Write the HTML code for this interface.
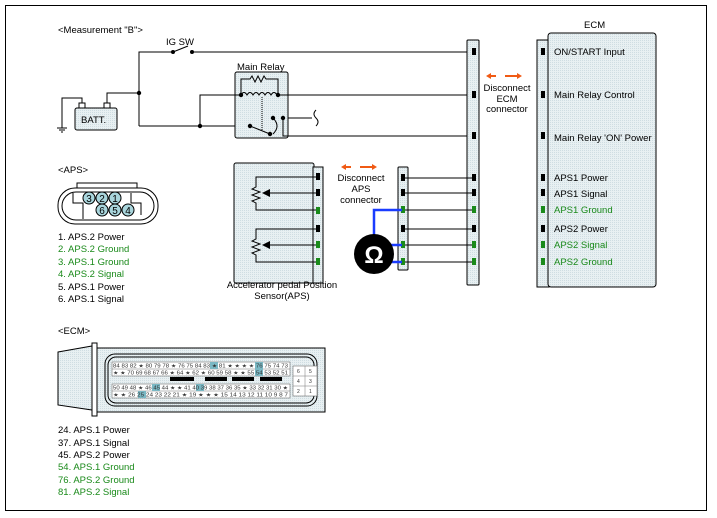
<!DOCTYPE html>
<html><head><meta charset="utf-8"><style>
body{margin:0;background:#fff;}
svg{display:block;font-family:"Liberation Sans",sans-serif;}
</style></head><body>
<svg width="717" height="518" viewBox="0 0 717 518" xmlns="http://www.w3.org/2000/svg">
<defs>
<pattern id="dot" width="2" height="2" patternUnits="userSpaceOnUse"><rect width="2" height="2" fill="#e8f0f2"/><rect width="1" height="1" fill="#cfdde2"/></pattern>
</defs>
<rect x="5.5" y="5.5" width="701" height="505" fill="#fff" stroke="#000"/>
<g font-size="9.5" fill="#000">
<text x="58" y="33">&lt;Measurement "B"&gt;</text>
<text x="166" y="45">IG SW</text>
<text x="237" y="70">Main Relay</text>
</g>
<g stroke="#000" fill="none" stroke-width="1">
<polyline points="139,126 139,52 172,52"/>
<path d="M173,52 L188,46"/>
<line x1="192" y1="52" x2="470" y2="52"/>
<polyline points="62,128 62,98 82,98 82,103"/>
<polyline points="107,103 107,93 139,93"/>
<line x1="57" y1="128" x2="67" y2="128"/><line x1="59" y1="130" x2="65" y2="130"/><line x1="61" y1="132" x2="63" y2="132"/>
<polyline points="139,126 250,126 270,136"/>
<polyline points="200,126 200,95 470,95"/>
<polyline points="285,136 470,136"/>
<polyline points="283,110 283,136"/>
<line x1="273" y1="118" x2="312" y2="118"/>
<path d="M316,110 q-4,4 0,8 q4,4 0,8"/>
</g>
<rect x="235" y="72" width="53" height="66" rx="2" fill="url(#dot)" stroke="#000"/>
<g stroke="#000" fill="none">
<polyline points="241,95 241,79 250,79 252,76 255,82 258,76 261,82 264,76 266,79 278,79 278,95"/>
<path d="M241,95 q3,-5 6,0 q3,-5 6,0 q3,-5 6,0 q3,-5 6,0 q3,-5 6,0 q3,-5 6,0"/>
<line x1="262" y1="97" x2="262" y2="130" stroke-dasharray="1,1"/>
<line x1="250" y1="126" x2="270" y2="134"/>
<path d="M273,118 q8,8 0,16"/>
<line x1="200" y1="95" x2="241" y2="95"/><line x1="278" y1="95" x2="288" y2="95"/>
<polyline points="283,118 283,136 288,136"/>
</g>
<g fill="#000">
<circle cx="139" cy="93" r="2.2"/><circle cx="200" cy="126" r="2.2"/><circle cx="241" cy="95" r="2.2"/><circle cx="278" cy="95" r="2.2"/>
<circle cx="250" cy="126" r="2.2"/><circle cx="270" cy="134" r="2.2"/><circle cx="273" cy="118" r="2.2"/><circle cx="283" cy="118" r="2.2"/>
<circle cx="173" cy="52" r="2"/><circle cx="192" cy="52" r="2"/>
</g>
<rect x="75" y="108" width="42" height="22" rx="2" fill="url(#dot)" stroke="#000"/>
<rect x="79" y="103" width="6" height="5" fill="#fff" stroke="#000"/>
<rect x="104" y="103" width="6" height="5" fill="#fff" stroke="#000"/>
<text x="81" y="123" font-size="9.5">BATT.</text>

<rect x="467" y="40" width="12" height="245" rx="1" fill="url(#dot)" stroke="#000"/>
<rect x="537" y="40" width="12" height="247" fill="url(#dot)" stroke="#000"/>
<rect x="548" y="33" width="108" height="254" rx="3" fill="url(#dot)" stroke="#000"/>
<text x="584" y="28" font-size="9.5">ECM</text>
<g font-size="9.5">
<text x="554" y="55">ON/START Input</text>
<text x="554" y="98">Main Relay Control</text>
<text x="554" y="141">Main Relay 'ON' Power</text>
<text x="554" y="181">APS1 Power</text>
<text x="554" y="197">APS1 Signal</text>
<text x="554" y="213" fill="#1a8a1a">APS1 Ground</text>
<text x="554" y="232">APS2 Power</text>
<text x="554" y="248" fill="#1a8a1a">APS2 Signal</text>
<text x="554" y="265" fill="#1a8a1a">APS2 Ground</text>
</g>
<g>
<rect x="472" y="48" width="4" height="7" fill="#000"/>
<rect x="472" y="91" width="4" height="7" fill="#000"/>
<rect x="472" y="132" width="4" height="7" fill="#000"/>
<rect x="472" y="174" width="4" height="7" fill="#000"/>
<rect x="472" y="189" width="4" height="7" fill="#000"/>
<rect x="472" y="206" width="4" height="7" fill="#1a8a1a"/>
<rect x="472" y="225" width="4" height="7" fill="#000"/>
<rect x="472" y="241" width="4" height="7" fill="#1a8a1a"/>
<rect x="472" y="258" width="4" height="7" fill="#1a8a1a"/>
<rect x="541" y="48" width="4" height="7" fill="#000"/>
<rect x="541" y="91" width="4" height="7" fill="#000"/>
<rect x="541" y="132" width="4" height="7" fill="#000"/>
<rect x="541" y="174" width="4" height="7" fill="#000"/>
<rect x="541" y="189" width="4" height="7" fill="#000"/>
<rect x="541" y="206" width="4" height="7" fill="#1a8a1a"/>
<rect x="541" y="225" width="4" height="7" fill="#000"/>
<rect x="541" y="241" width="4" height="7" fill="#1a8a1a"/>
<rect x="541" y="258" width="4" height="7" fill="#1a8a1a"/>
</g>
<g stroke="#f05a14" stroke-width="2" fill="#f05a14">
<line x1="489" y1="76" x2="496" y2="76"/><line x1="505" y1="76" x2="518" y2="76"/>
<path d="M486,76 l5,-3 v6z" stroke="none"/><path d="M522,76 l-5,-3 v6z" stroke="none"/>
<line x1="344" y1="167" x2="351" y2="167"/><line x1="360" y1="167" x2="373" y2="167"/>
<path d="M341,167 l5,-3 v6z" stroke="none"/><path d="M377,167 l-5,-3 v6z" stroke="none"/>
</g>
<g font-size="9.5" text-anchor="middle">
<text x="507" y="91">Disconnect</text><text x="507" y="102">ECM</text><text x="507" y="112">connector</text>
<text x="361" y="181">Disconnect</text><text x="361" y="192">APS</text><text x="361" y="203">connector</text>
</g>

<rect x="234" y="163" width="80" height="120" rx="2" fill="url(#dot)" stroke="#000"/>
<rect x="313" y="167" width="10" height="116" fill="url(#dot)" stroke="#000"/>
<g stroke="#000" fill="none">
<polyline points="317,177 256,177 256,187 252,189 260,192 252,195 260,198 252,201 256,203 256,210 317,210"/>
<line x1="317" y1="193" x2="270" y2="193"/>
<polyline points="317,229 256,229 256,239 252,241 260,244 252,247 260,250 252,253 256,255 256,262 317,262"/>
<line x1="317" y1="245" x2="270" y2="245"/>
</g>
<path d="M262,193 l8,-4 v8z M262,245 l8,-4 v8z" fill="#000"/>
<g>
<rect x="316" y="173" width="4" height="7" fill="#000"/>
<rect x="316" y="189" width="4" height="7" fill="#000"/>
<rect x="316" y="207" width="4" height="7" fill="#1a8a1a"/>
<rect x="316" y="225" width="4" height="7" fill="#000"/>
<rect x="316" y="241" width="4" height="7" fill="#1a8a1a"/>
<rect x="316" y="258" width="4" height="7" fill="#1a8a1a"/>
</g>
<text x="282" y="288" font-size="9.5" text-anchor="middle">Accelerator pedal Position</text>
<text x="282" y="299" font-size="9.5" text-anchor="middle">Sensor(APS)</text>

<rect x="398" y="167" width="10" height="103" rx="1" fill="url(#dot)" stroke="#000"/>
<g stroke="#000">
<line x1="403" y1="178" x2="472" y2="178"/><line x1="403" y1="193" x2="472" y2="193"/>
<line x1="403" y1="210" x2="472" y2="210"/><line x1="403" y1="229" x2="472" y2="229"/>
<line x1="403" y1="245" x2="472" y2="245"/><line x1="403" y1="262" x2="472" y2="262"/>
</g>
<g>
<rect x="401" y="174" width="4" height="7" fill="#000"/>
<rect x="401" y="189" width="4" height="7" fill="#000"/>
<rect x="401" y="206" width="4" height="7" fill="#1a8a1a"/>
<rect x="401" y="225" width="4" height="7" fill="#000"/>
<rect x="401" y="241" width="4" height="7" fill="#1a8a1a"/>
<rect x="401" y="258" width="4" height="7" fill="#1a8a1a"/>
</g>
<g stroke="#1a3cff" stroke-width="2.5" fill="none">
<polyline points="374,238 374,210 402,210"/>
<line x1="390" y1="245" x2="402" y2="245"/>
<line x1="390" y1="262" x2="402" y2="262"/>
</g>
<circle cx="374" cy="254" r="20" fill="#000"/>
<text x="374" y="263" font-size="24" font-weight="bold" fill="#fff" text-anchor="middle">Ω</text>

<text x="58" y="173" font-size="9.5">&lt;APS&gt;</text>
<path d="M77,189 h60 v-6 h-60z" fill="#fff" stroke="#000"/>
<rect x="58" y="188" width="100" height="36" rx="17" fill="#fff" stroke="#000"/>
<rect x="62" y="192" width="92" height="28" rx="14" fill="none" stroke="#000"/>
<polyline points="73,193 73,203 83,203 83,219" fill="none" stroke="#000"/>
<polyline points="131,193 131,203 141,203 141,215" fill="none" stroke="#000"/>
<g fill="#a9d5dc" stroke="#000">
<circle cx="89" cy="198" r="6"/><circle cx="102" cy="198" r="6"/><circle cx="115" cy="198" r="6"/>
<circle cx="102" cy="210" r="6"/><circle cx="115" cy="210" r="6"/><circle cx="128" cy="210" r="6"/>
</g>
<g font-size="10" text-anchor="middle" fill="#000">
<text x="89" y="202">3</text><text x="102" y="202">2</text><text x="115" y="202">1</text>
<text x="102" y="214">6</text><text x="115" y="214">5</text><text x="128" y="214">4</text>
</g>
<g font-size="9.5">
<text x="58" y="240">1. APS.2 Power</text>
<text x="58" y="252" fill="#1a8a1a">2. APS.2 Ground</text>
<text x="58" y="265" fill="#1a8a1a">3. APS.1 Ground</text>
<text x="58" y="277" fill="#1a8a1a">4. APS.2 Signal</text>
<text x="58" y="290">5. APS.1 Power</text>
<text x="58" y="302">6. APS.1 Signal</text>
<text x="58" y="334">&lt;ECM&gt;</text>
<text x="58" y="433">24. APS.1 Power</text>
<text x="58" y="446">37. APS.1 Signal</text>
<text x="58" y="458">45. APS.2 Power</text>
<text x="58" y="470" fill="#1a8a1a">54. APS.1 Ground</text>
<text x="58" y="483" fill="#1a8a1a">76. APS.2 Ground</text>
<text x="58" y="495" fill="#1a8a1a">81. APS.2 Signal</text>
</g>

<polygon points="58,352 92,346 92,410 58,405" fill="url(#dot)" stroke="#000"/>
<rect x="92" y="343" width="5" height="73" fill="#fff" stroke="#000"/>
<rect x="97" y="348" width="228" height="64" fill="url(#dot)" stroke="#000"/>
<rect x="105" y="354" width="212" height="52" rx="10" fill="none" stroke="#000"/>
<rect x="108" y="357" width="206" height="46" rx="8" fill="none" stroke="#000"/>
<g fill="#fff" stroke="#555" stroke-width="0.5">
<rect x="112" y="362" width="178" height="14"/>
<rect x="112" y="384" width="178" height="14"/>
<rect x="293" y="366" width="24" height="30"/>
</g>
<g stroke="#777" stroke-width="0.5">
<line x1="112" y1="369" x2="290" y2="369"/><line x1="112" y1="391" x2="290" y2="391"/>
<line x1="293" y1="376" x2="317" y2="376"/><line x1="293" y1="386" x2="317" y2="386"/><line x1="305" y1="366" x2="305" y2="396"/>
</g>
<g fill="#7ab8c4">
<rect x="210" y="362" width="8" height="7"/><rect x="255" y="362" width="8" height="7"/><rect x="255" y="369" width="8" height="7"/>
<rect x="152" y="384" width="8" height="7"/><rect x="196" y="384" width="8" height="7"/><rect x="138" y="391" width="8" height="7"/>
</g>
<g fill="#000">
<rect x="170" y="377" width="24" height="4"/><rect x="205" y="377" width="22" height="4"/>
<rect x="232" y="377" width="22" height="4"/><rect x="260" y="377" width="22" height="4"/>
</g>
<g font-size="5" fill="#333">
<text x="113" y="367.5" textLength="175" lengthAdjust="spacingAndGlyphs">84 83 82 ★ 80 79 78 ★ 76 75 84 83 ★ 81 ★ ★ ★ ★ 76 75 74 73</text>
<text x="113" y="374.5" textLength="175" lengthAdjust="spacingAndGlyphs">★ ★ 70 69 68 67 66 ★ 64 ★ 62 ★ 60 59 58 ★ ★ 55 54 53 52 51</text>
<text x="113" y="389.5" textLength="175" lengthAdjust="spacingAndGlyphs">50 49 48 ★ 46 45 44 ★ ★ 41 40 39 38 37 36 35 ★ 33 32 31 30 ★</text>
<text x="113" y="396.5" textLength="175" lengthAdjust="spacingAndGlyphs">★ ★ 26 25 24 23 22 21 ★ 19 ★ ★ ★ 15 14 13 12 11 10 9 8 7</text>
<text x="297" y="373">6</text><text x="309" y="373">5</text>
<text x="297" y="383">4</text><text x="309" y="383">3</text>
<text x="297" y="393">2</text><text x="309" y="393">1</text>
</g>
</svg>
</body></html>
